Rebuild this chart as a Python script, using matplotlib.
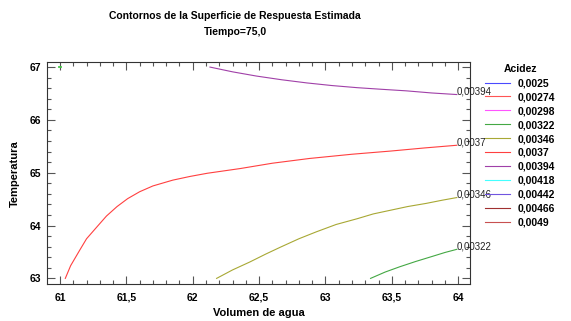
import matplotlib
matplotlib.use('Agg')
import matplotlib.pyplot as plt
from matplotlib.lines import Line2D
from matplotlib.ticker import MultipleLocator, FuncFormatter

plt.rcParams['font.family'] = ['Liberation Sans', 'DejaVu Sans']

# contour levels shown in the legend
levels = ['0,0025', '0,00274', '0,00298', '0,00322', '0,00346', '0,0037',
          '0,00394', '0,00418', '0,00442', '0,00466', '0,0049']
level_colors = ['#4a4aff', '#ff5555', '#ff55ff', '#44a844', '#a8a834', '#ff4040',
                '#a040a8', '#44ffff', '#7055e0', '#a03030', '#c85050']

# contour lines (Volumen de agua, Temperatura)
c394_x = [62.13, 62.30, 62.48, 62.67, 62.86, 63.05, 63.24, 63.42, 63.61, 63.80, 63.99]
c394_y = [67.0, 66.91, 66.83, 66.76, 66.70, 66.65, 66.61, 66.58, 66.55, 66.51, 66.48]

c370_x = [61.04, 61.08, 61.15, 61.20, 61.28, 61.35, 61.43, 61.51, 61.60, 61.70,
          61.85, 61.98, 62.11, 62.36, 62.60, 62.88, 63.20, 63.49, 63.75, 63.99]
c370_y = [63.0, 63.24, 63.54, 63.75, 63.98, 64.18, 64.36, 64.51, 64.64, 64.75,
          64.86, 64.93, 64.99, 65.08, 65.18, 65.27, 65.35, 65.41, 65.47, 65.52]

c346_x = [62.18, 62.30, 62.43, 62.55, 62.66, 62.80, 62.93, 63.08, 63.24, 63.36,
          63.49, 63.62, 63.76, 63.88, 63.99]
c346_y = [63.0, 63.16, 63.31, 63.46, 63.59, 63.75, 63.88, 64.02, 64.13, 64.22,
          64.29, 64.36, 64.42, 64.48, 64.53]

c322_x = [63.34, 63.45, 63.56, 63.68, 63.81, 63.90, 63.99]
c322_y = [63.0, 63.12, 63.22, 63.32, 63.42, 63.49, 63.55]

# tiny green piece in the top-left corner
c322b_x = [60.995, 61.01]
c322b_y = [66.995, 66.995]

fig = plt.figure(figsize=(5.71, 3.21), dpi=100)
ax = fig.add_axes([0.0823, 0.114, 0.741, 0.693])

ax.plot(c394_x, c394_y, color='#a040a8', lw=0.8)
ax.plot(c370_x, c370_y, color='#ff4040', lw=0.8)
ax.plot(c346_x, c346_y, color='#a8a834', lw=0.8)
ax.plot(c322_x, c322_y, color='#44a844', lw=0.8)
ax.plot(c322b_x, c322b_y, color='#44c844', lw=1.3)

# contour labels at the right ends
for xs, ys, lab in [(c394_x, c394_y, '0,00394'), (c370_x, c370_y, '0,0037'),
                    (c346_x, c346_y, '0,00346'), (c322_x, c322_y, '0,00322')]:
    ax.text(xs[-1], ys[-1] + 0.06, lab, fontsize=7, ha='left', va='center',
            clip_on=False, color='#222222')

ax.set_xlim(60.902, 64.09)
ax.set_ylim(62.886, 67.097)

ax.xaxis.set_major_locator(MultipleLocator(0.5))
ax.xaxis.set_minor_locator(MultipleLocator(0.1))
ax.yaxis.set_major_locator(MultipleLocator(1))
ax.yaxis.set_minor_locator(MultipleLocator(0.2))
comma = FuncFormatter(lambda v, p: ('%g' % v).replace('.', ','))
ax.xaxis.set_major_formatter(comma)
ax.yaxis.set_major_formatter(comma)

ax.tick_params(which='both', direction='in', top=True, right=True, color='#555555', width=0.8)
ax.tick_params(which='major', length=6, labelsize=7.5)
ax.tick_params(axis='x', which='major', pad=6)
ax.tick_params(axis='y', which='major', pad=4)
ax.tick_params(which='minor', length=3)
for lab in ax.get_xticklabels() + ax.get_yticklabels():
    lab.set_fontweight('bold')
for sp in ax.spines.values():
    sp.set_color('#333333')
    sp.set_linewidth(0.8)

ax.set_xlabel('Volumen de agua', fontsize=8, fontweight='bold', labelpad=4)
ax.set_ylabel('Temperatura', fontsize=8, fontweight='bold', labelpad=7)

fig.text(235 / 571, 1 - 16 / 321, 'Contornos de la Superficie de Respuesta Estimada',
         ha='center', va='center', fontsize=7.5, fontweight='bold')
fig.text(235 / 571, 1 - 32 / 321, 'Tiempo=75,0', ha='center', va='center',
         fontsize=7.5, fontweight='bold')

handles = [Line2D([], [], color=c, lw=0.8) for c in level_colors]
leg = fig.legend(handles, levels, title='Acidez', loc='upper left',
                 bbox_to_anchor=(480 / 571, 1 - 59 / 321), frameon=False,
                 fontsize=7.5, title_fontsize=7.5, handlelength=2.4,
                 handletextpad=0.7, labelspacing=0.38, borderpad=0)
leg.get_title().set_fontweight('bold')
for t in leg.get_texts():
    t.set_fontweight('bold')

fig.savefig('out.png', dpi=100)
